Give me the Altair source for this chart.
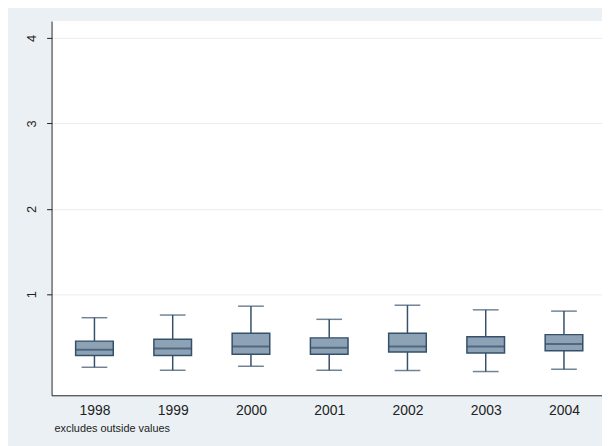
import altair as alt
import pandas as pd

years = ["1998", "1999", "2000", "2001", "2002", "2003", "2004"]
lower = [0.146, 0.111, 0.158, 0.111, 0.108, 0.096, 0.123]
q1 = [0.285, 0.285, 0.297, 0.297, 0.324, 0.313, 0.339]
median = [0.351, 0.366, 0.389, 0.374, 0.389, 0.389, 0.417]
q3 = [0.452, 0.475, 0.544, 0.490, 0.544, 0.502, 0.528]
upper = [0.726, 0.757, 0.861, 0.707, 0.872, 0.818, 0.803]
y_ticks = [1, 2, 3, 4]
note = "excludes outside values"

df = pd.DataFrame({"year": years, "lower": lower, "q1": q1, "median": median,
                   "q3": q3, "upper": upper})

FILL = "#8EA2B6"
STROKE = "#34506A"
W, H = 556, 378

xs = alt.X("year:N", sort=years,
           scale=alt.Scale(type="point", padding=0.517, align=0.53),
           axis=alt.Axis(title=None, labelAngle=0, ticks=False, labelPadding=8,
                         labelFontSize=14, labelColor="#222222", domainColor="#222222",
                         domainWidth=1, grid=False, labelFont="Liberation Sans"))
ysc = alt.Scale(domain=[-0.182, 4.197], nice=False, zero=False)
yax = alt.Axis(title=None, values=y_ticks, grid=True, gridColor="#ECECEC", gridWidth=1,
               domainColor="#222222", tickColor="#222222", tickSize=5, labelAngle=270,
               labelAlign="center", labelBaseline="bottom", labelPadding=8,
               labelFontSize=13, labelColor="#222222", labelFont="Liberation Sans")

base = alt.Chart(df)

whisk = base.mark_rule(color=STROKE, strokeWidth=1.5).encode(
    x=xs, y=alt.Y("lower:Q", scale=ysc, axis=yax), y2="upper:Q")
box = base.mark_bar(size=38, fill=FILL, stroke=STROKE, strokeWidth=1.5).encode(
    x=xs, y=alt.Y("q1:Q", scale=ysc, axis=yax), y2="q3:Q")
med = base.mark_tick(size=38, thickness=2, color=STROKE, orient="horizontal").encode(
    x=xs, y=alt.Y("median:Q", scale=ysc, axis=yax))
cap_hi = base.mark_tick(size=26, thickness=1.5, color=STROKE, orient="horizontal").encode(
    x=xs, y=alt.Y("upper:Q", scale=ysc, axis=yax))
cap_lo = base.mark_tick(size=26, thickness=1.5, color=STROKE, orient="horizontal").encode(
    x=xs, y=alt.Y("lower:Q", scale=ysc, axis=yax))
note_txt = alt.Chart(pd.DataFrame({"t": [note]})).mark_text(
    align="left", baseline="middle", fontSize=11, font="Liberation Sans", color="#222222"
).encode(text="t:N", x=alt.value(3), y=alt.value(H + 34))

chart = alt.layer(whisk, box, med, cap_hi, cap_lo, note_txt).properties(
    width=W, height=H,
    autosize=alt.AutoSizeParams(type="none"),
    padding={"left": 44, "top": 11, "right": 0, "bottom": 49},
    background="#EAF0F4",
).configure_view(stroke=None, fill="white")

chart.save("out.html", embed_options={"renderer": "svg", "actions": False})
